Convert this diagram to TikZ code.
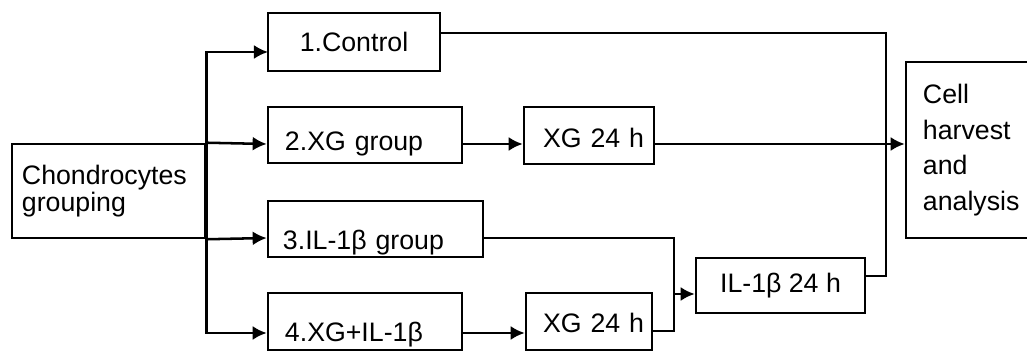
\documentclass[tikz,border=0pt]{standalone}
\usepackage{fontspec}
\setmainfont{Liberation Sans}
\usepackage{tikz}
\usetikzlibrary{positioning}
\usetikzlibrary{calc}
\usetikzlibrary{arrows.meta}
\tikzset{every picture/.style={line width=1.8pt}}

\begin{document}
\begin{tikzpicture}[line width=1.8pt,x=0.025cm,y=-0.025cm,>={Latex[length=10pt,width=10pt]},bx/.style={draw, inner ysep=0pt, font=\fontsize{19}{19.5}\selectfont},gr/.style={bx, align=left, minimum height=1.4cm},lo/.style={text height=#1, text depth=0pt}]
\useasboundingbox (0,0) rectangle (1027,352);
% boxes
\node (chon) at (108.5,191) [bx, align=left, text width=4.325cm, inner xsep=0.25cm, minimum height=2.35cm] {Chondrocytes\\grouping};
\node (ctrl) at (354,42) [bx, minimum width=4.3cm, minimum height=1.45cm] {1.Control};
\node (xgg) at (365,135) [gr, lo=22pt, text width=4cm, inner xsep=0.425cm] {2.XG group};
\node (ilg) at (375.5,229) [gr, lo=29pt, text width=4.625cm, inner xsep=0.375cm] {3.IL-1β group};
\node (xgil) at (365,321.5) [gr, lo=28.5pt, text width=4cm, inner xsep=0.425cm, minimum height=1.425cm] {4.XG+IL-1β};
\node (xg1) at (589,135.5) [bx, lo=17pt, align=right, text width=2.75cm, inner xsep=0.25cm, minimum height=1.425cm] {XG 24 h};
\node (xg2) at (589,321.5) [bx, lo=16pt, align=right, text width=2.75cm, inner xsep=0.2cm, minimum height=1.425cm] {XG 24 h};
\node (il24) at (780.5,285.5) [bx, minimum width=4.225cm, minimum height=1.375cm] {IL-1β 24 h};
\node (cell) at (975,150) [bx, align=left, text width=2.6cm, inner xsep=0.425cm, minimum height=4.4cm, font=\fontsize{19}{25.3}\selectfont] {Cell\\harvest\\and\\analysis};
% rows and joints
\coordinate (r1) at (0,33);
\coordinate (r2) at (0,144);
\coordinate (r3) at (0,238);
\coordinate (r4) at (0,333);
\coordinate (r5) at (0,331);
\coordinate (ctrlin) at (268,52);
\coordinate (bus) at (886,0);
\coordinate (il24o) at (0,276);
\coordinate (join) at (674,294);
% trunk
\draw[->] (chon.north east) |- (ctrlin);
\draw (chon.north east) -- (chon.south east);
\draw[->] (chon.south east) |- (xgil.west |- r4);
\draw[->] (chon.north east) -- (xgg.west |- r2);
\draw[->] (chon.south east) -- (ilg.west |- r3);
% middle
\draw[->] (xgg.east |- r2) -- (xg1.west |- r2);
\draw[->] (xgil.east |- r4) -- (xg2.west |- r4);
\draw (ilg.east |- r3) -| (join);
\draw (xg2.east |- r5) -| (join);
\draw[->] (join) -- (il24.west |- join);
% to cell box
\draw (ctrl.east |- r1) -| (bus |- il24o) -- (il24.east |- il24o);
\draw[->] (xg1.east |- r2) -- (cell.west |- r2);
\end{tikzpicture}
\end{document}
